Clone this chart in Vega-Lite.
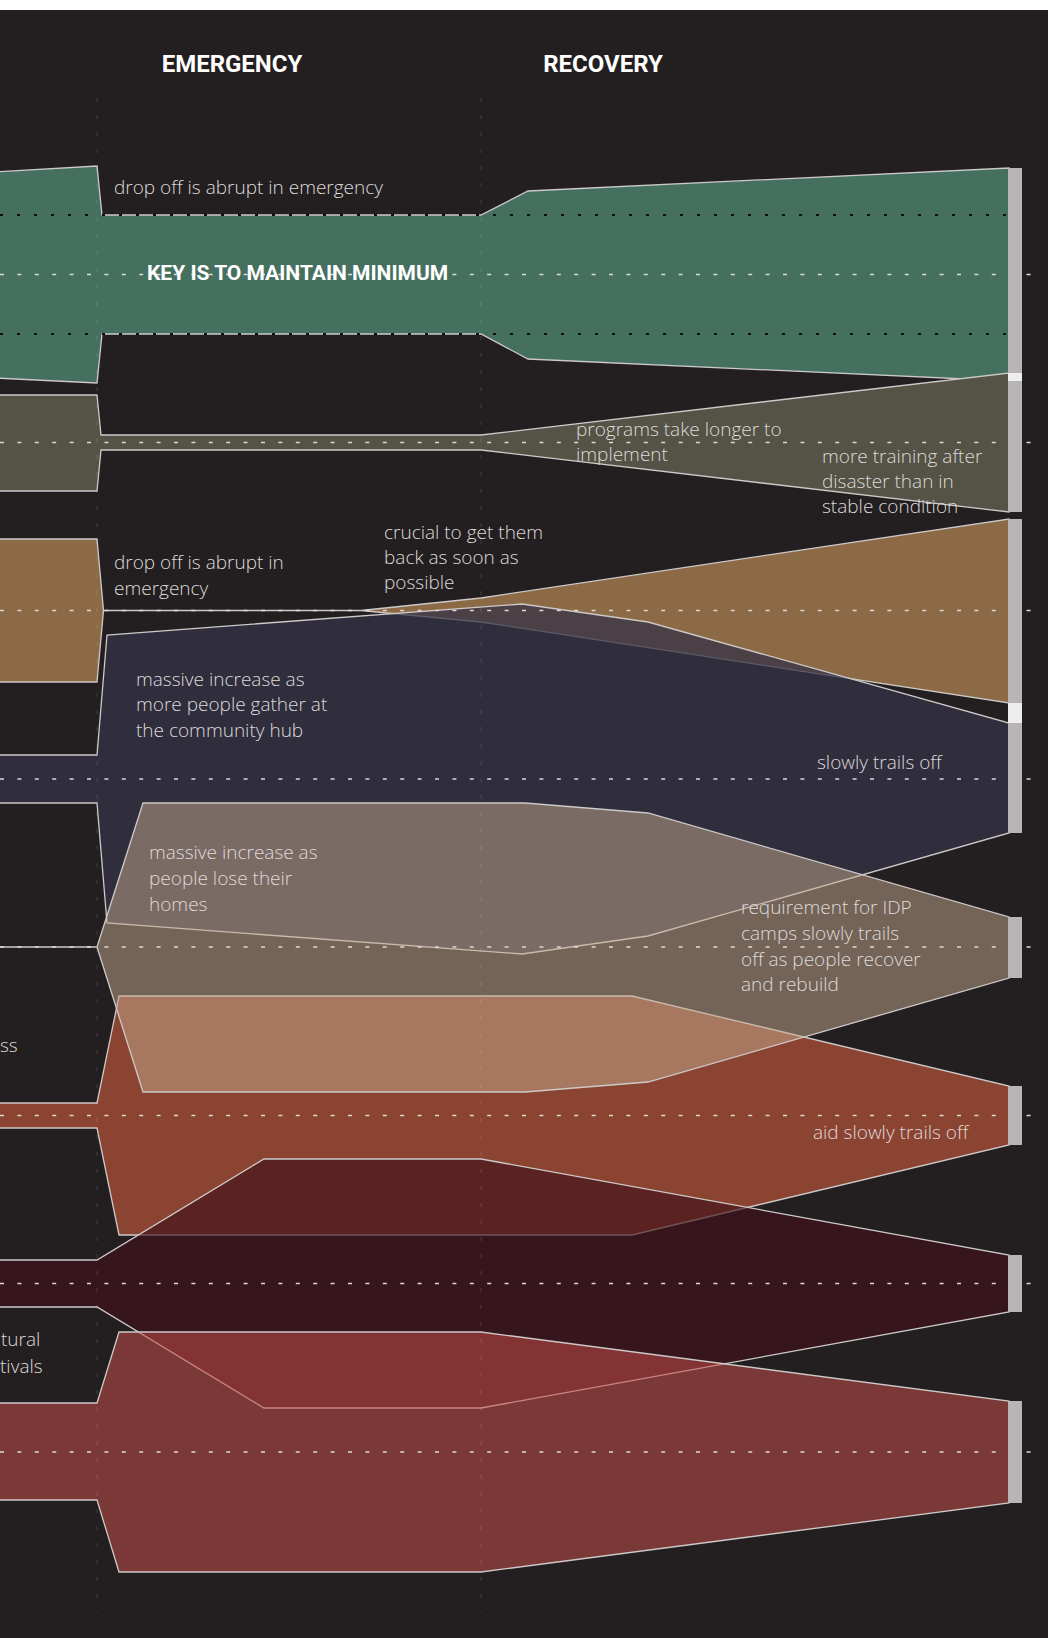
{
  "$schema": "https://vega.github.io/schema/vega-lite/v6.json",
  "width": 1048,
  "height": 1628,
  "autosize": {"type": "none"},
  "padding": {"top": 10, "left": 0, "right": 0, "bottom": 0},
  "background": "#ffffff",
  "config": {"view": {"stroke": null, "fill": "#231f20"}},
  "resolve": {"scale": {"color": "independent"}},
  "datasets": {
    "bands": [
      {"band": "green", "x": -5, "top": 172, "bot": 378},
      {"band": "green", "x": 97, "top": 166, "bot": 383},
      {"band": "green", "x": 102, "top": 215, "bot": 334},
      {"band": "green", "x": 481, "top": 215, "bot": 334},
      {"band": "green", "x": 528, "top": 191, "bot": 359},
      {"band": "green", "x": 1009, "top": 168, "bot": 381},
      {"band": "olive", "x": -5, "top": 395, "bot": 491},
      {"band": "olive", "x": 97, "top": 395, "bot": 491},
      {"band": "olive", "x": 101, "top": 435, "bot": 450},
      {"band": "olive", "x": 481, "top": 435, "bot": 450},
      {"band": "olive", "x": 1009, "top": 373, "bot": 512},
      {"band": "brown", "x": -5, "top": 539, "bot": 682},
      {"band": "brown", "x": 97, "top": 539, "bot": 682},
      {"band": "brown", "x": 103.5, "top": 610.5, "bot": 610.5},
      {"band": "brown", "x": 361, "top": 610.5, "bot": 610.5},
      {"band": "brown", "x": 481, "top": 598, "bot": 622},
      {"band": "brown", "x": 1009, "top": 519, "bot": 703},
      {"band": "blue", "x": -5, "top": 755, "bot": 803},
      {"band": "blue", "x": 97, "top": 755, "bot": 803},
      {"band": "blue", "x": 107, "top": 635, "bot": 923},
      {"band": "blue", "x": 522, "top": 604, "bot": 954},
      {"band": "blue", "x": 648, "top": 622, "bot": 936},
      {"band": "blue", "x": 1009, "top": 723, "bot": 833},
      {"band": "orange", "x": -5, "top": 1103, "bot": 1128},
      {"band": "orange", "x": 97, "top": 1103, "bot": 1128},
      {"band": "orange", "x": 119, "top": 996, "bot": 1235},
      {"band": "orange", "x": 632, "top": 996, "bot": 1235},
      {"band": "orange", "x": 1009, "top": 1086, "bot": 1145},
      {"band": "idp", "x": -5, "top": 947, "bot": 947},
      {"band": "idp", "x": 97, "top": 947, "bot": 947},
      {"band": "idp", "x": 143, "top": 803, "bot": 1092},
      {"band": "idp", "x": 525, "top": 803, "bot": 1092},
      {"band": "idp", "x": 648, "top": 813, "bot": 1082},
      {"band": "idp", "x": 1009, "top": 917, "bot": 978},
      {"band": "maroon", "x": -5, "top": 1260, "bot": 1307},
      {"band": "maroon", "x": 97, "top": 1260, "bot": 1307},
      {"band": "maroon", "x": 264, "top": 1159, "bot": 1408},
      {"band": "maroon", "x": 481, "top": 1159, "bot": 1408},
      {"band": "maroon", "x": 1009, "top": 1255, "bot": 1312},
      {"band": "red", "x": -5, "top": 1403, "bot": 1500},
      {"band": "red", "x": 97, "top": 1403, "bot": 1500},
      {"band": "red", "x": 119, "top": 1332, "bot": 1572},
      {"band": "red", "x": 481, "top": 1332, "bot": 1572},
      {"band": "red", "x": 1009, "top": 1401, "bot": 1503}
    ],
    "centers": [
      {"band": "green", "center": 274.5},
      {"band": "olive", "center": 442.5},
      {"band": "brown", "center": 610.5},
      {"band": "blue", "center": 779},
      {"band": "idp", "center": 947},
      {"band": "orange", "center": 1115.5},
      {"band": "maroon", "center": 1283.5},
      {"band": "red", "center": 1452}
    ],
    "minimum": [{"level": 215}, {"level": 334}],
    "phases": [{"t": 97}, {"t": 481}],
    "ends": [
      {"kind": "bar", "top": 168, "bot": 373},
      {"kind": "join", "top": 373, "bot": 381},
      {"kind": "bar", "top": 381, "bot": 512},
      {"kind": "bar", "top": 519, "bot": 703},
      {"kind": "join", "top": 703, "bot": 723},
      {"kind": "bar", "top": 723, "bot": 833},
      {"kind": "bar", "top": 917, "bot": 978},
      {"kind": "bar", "top": 1086, "bot": 1145},
      {"kind": "bar", "top": 1255, "bot": 1312},
      {"kind": "bar", "top": 1401, "bot": 1503}
    ],
    "titles": [
      {"x": 232, "y": 65, "text": "EMERGENCY"},
      {"x": 603, "y": 65, "text": "RECOVERY"}
    ],
    "notes": [
      {"x": 114, "y": 188, "text": "drop off is abrupt in emergency"},
      {"x": 576, "y": 430, "text": "programs take longer to"},
      {"x": 576, "y": 455, "text": "implement"},
      {"x": 822, "y": 457, "text": "more training after"},
      {"x": 822, "y": 482, "text": "disaster than in"},
      {"x": 822, "y": 507, "text": "stable condition"},
      {"x": 384, "y": 533, "text": "crucial to get them"},
      {"x": 384, "y": 558, "text": "back as soon as"},
      {"x": 384, "y": 583, "text": "possible"},
      {"x": 114, "y": 563, "text": "drop off is abrupt in"},
      {"x": 114, "y": 589, "text": "emergency"},
      {"x": 136, "y": 680, "text": "massive increase as"},
      {"x": 136, "y": 705, "text": "more people gather at"},
      {"x": 136, "y": 731, "text": "the community hub"},
      {"x": 817, "y": 763, "text": "slowly trails off"},
      {"x": 149, "y": 853, "text": "massive increase as"},
      {"x": 149, "y": 879, "text": "people lose their"},
      {"x": 149, "y": 905, "text": "homes"},
      {"x": 741, "y": 908, "text": "requirement for IDP"},
      {"x": 741, "y": 934, "text": "camps slowly trails"},
      {"x": 741, "y": 960, "text": "off as people recover"},
      {"x": 741, "y": 985, "text": "and rebuild"},
      {"x": 813, "y": 1133, "text": "aid slowly trails off"},
      {"x": 0, "y": 1046, "text": "ss"},
      {"x": 1, "y": 1340, "text": "tural"},
      {"x": 0, "y": 1367, "text": "tivals"}
    ],
    "key": [{"x": 147, "y": 274, "text": "KEY IS TO MAINTAIN MINIMUM"}]
  },
  "layer": [
    {
      "data": {"name": "bands"},
      "mark": {"type": "area", "stroke": "#cdc9c9", "strokeWidth": 1.3, "opacity": 1, "interpolate": "linear"},
      "encoding": {
        "x": {"field": "x", "type": "quantitative", "scale": {"domain": [0, 1048], "nice": false, "zero": false}, "axis": null},
        "y": {"field": "top", "type": "quantitative", "scale": {"domain": [10, 1638], "nice": false, "zero": false, "reverse": true}, "axis": null},
        "y2": {"field": "bot"},
        "color": {
          "field": "band", "type": "nominal", "legend": null,
          "scale": {
            "domain": ["green", "olive", "brown", "blue", "orange", "idp", "maroon", "red"],
            "range": ["#45705f", "#555246", "#8b6a45", "rgba(52,50,70,0.74)", "#8b4431", "rgba(197,170,141,0.5)", "rgba(64,19,26,0.65)", "rgba(195,77,73,0.55)"]
          }
        }
      }
    },
    {
      "data": {"name": "centers"},
      "mark": {"type": "rule", "stroke": "#dcd8d8", "strokeWidth": 1.3, "strokeDash": [4, 13.4]},
      "encoding": {
        "y": {"field": "center", "type": "quantitative", "scale": {"domain": [10, 1638], "nice": false, "zero": false, "reverse": true}, "axis": null},
        "x": {"datum": 0, "type": "quantitative", "scale": {"domain": [0, 1048], "nice": false, "zero": false}, "axis": null},
        "x2": {"datum": 1033}
      }
    },
    {
      "data": {"name": "minimum"},
      "mark": {"type": "rule", "stroke": "#111011", "strokeWidth": 2, "strokeDash": [3, 14]},
      "encoding": {
        "y": {"field": "level", "type": "quantitative", "scale": {"domain": [10, 1638], "nice": false, "zero": false, "reverse": true}, "axis": null},
        "x": {"datum": 0, "type": "quantitative", "scale": {"domain": [0, 1048], "nice": false, "zero": false}, "axis": null},
        "x2": {"datum": 1009}
      }
    },
    {
      "data": {"name": "phases"},
      "mark": {"type": "rule", "stroke": "#ffffff", "strokeOpacity": 0.14, "strokeWidth": 1, "strokeDash": [4, 13]},
      "encoding": {
        "x": {"field": "t", "type": "quantitative", "scale": {"domain": [0, 1048], "nice": false, "zero": false}, "axis": null},
        "y": {"datum": 98, "type": "quantitative", "scale": {"domain": [10, 1638], "nice": false, "zero": false, "reverse": true}, "axis": null},
        "y2": {"datum": 1612}
      }
    },
    {
      "data": {"name": "ends"},
      "mark": {"type": "rect"},
      "encoding": {
        "x": {"datum": 1008, "type": "quantitative", "scale": {"domain": [0, 1048], "nice": false, "zero": false}, "axis": null},
        "x2": {"datum": 1022},
        "y": {"field": "top", "type": "quantitative", "scale": {"domain": [10, 1638], "nice": false, "zero": false, "reverse": true}, "axis": null},
        "y2": {"field": "bot"},
        "color": {"field": "kind", "type": "nominal", "legend": null, "scale": {"domain": ["bar", "join"], "range": ["#b9b5b5", "#eeeeee"]}}
      }
    },
    {
      "data": {"name": "titles"},
      "mark": {"type": "text", "align": "center", "baseline": "middle", "font": "Roboto", "fontWeight": "bold", "fontSize": 24, "fill": "#ffffff"},
      "encoding": {
        "x": {"field": "x", "type": "quantitative", "scale": {"domain": [0, 1048], "nice": false, "zero": false}, "axis": null},
        "y": {"field": "y", "type": "quantitative", "scale": {"domain": [10, 1638], "nice": false, "zero": false, "reverse": true}, "axis": null},
        "text": {"field": "text"}
      }
    },
    {
      "data": {"name": "notes"},
      "mark": {"type": "text", "align": "left", "baseline": "middle", "font": "Open Sans", "fontWeight": 300, "fontSize": 19, "fill": "#dedada"},
      "encoding": {
        "x": {"field": "x", "type": "quantitative", "scale": {"domain": [0, 1048], "nice": false, "zero": false}, "axis": null},
        "y": {"field": "y", "type": "quantitative", "scale": {"domain": [10, 1638], "nice": false, "zero": false, "reverse": true}, "axis": null},
        "text": {"field": "text"}
      }
    },
    {
      "data": {"name": "key"},
      "mark": {"type": "text", "align": "left", "baseline": "middle", "font": "Roboto", "fontWeight": "bold", "fontSize": 21, "fill": "#ffffff"},
      "encoding": {
        "x": {"field": "x", "type": "quantitative", "scale": {"domain": [0, 1048], "nice": false, "zero": false}, "axis": null},
        "y": {"field": "y", "type": "quantitative", "scale": {"domain": [10, 1638], "nice": false, "zero": false, "reverse": true}, "axis": null},
        "text": {"field": "text"}
      }
    }
  ]
}
